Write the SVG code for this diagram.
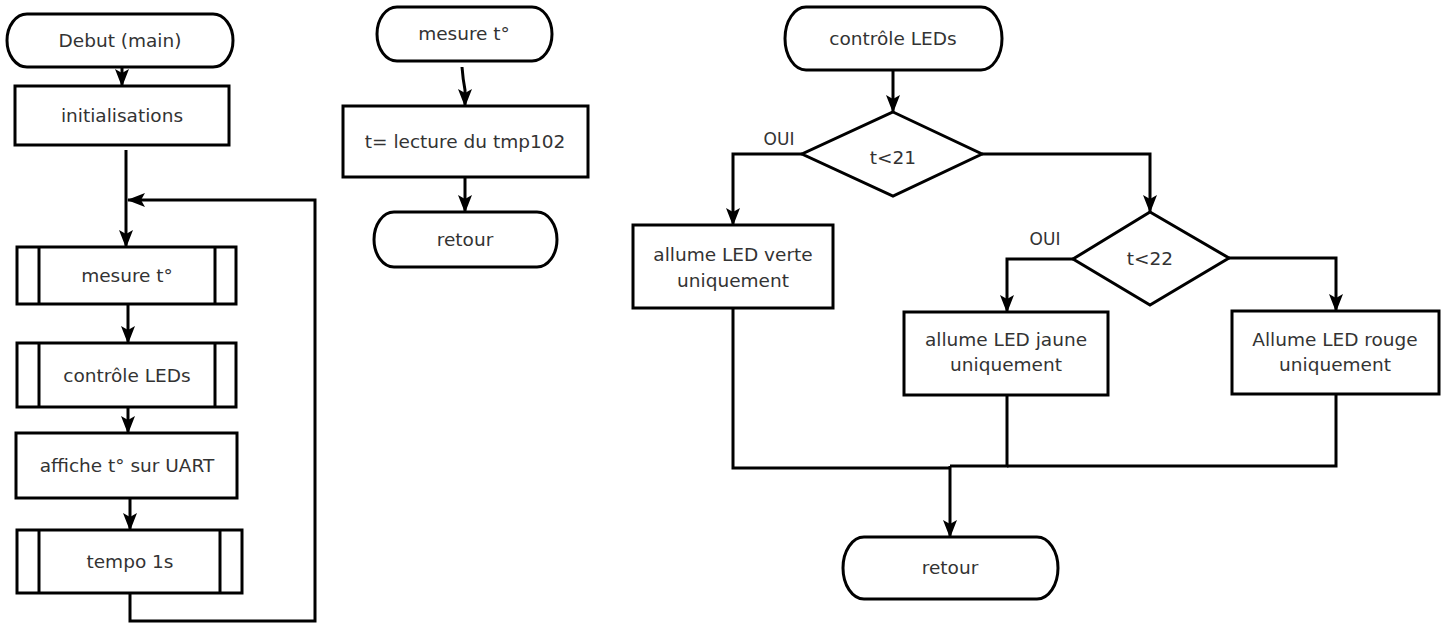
<svg xmlns="http://www.w3.org/2000/svg" width="1449" height="624" viewBox="0 0 1449 624">
<style>
.shape{fill:#fff;stroke:#000;stroke-width:3}
.sub{fill:none;stroke:#000;stroke-width:3}
.conn{fill:none;stroke:#000;stroke-width:3}
.arr{marker-end:url(#ah)}
text{font-family:"DejaVu Sans","Liberation Sans",sans-serif;font-size:18.5px;fill:#333;text-anchor:middle}
.lbl{font-size:17px}
</style>
<defs>
<marker id="ah" viewBox="0 0 18 14" refX="17" refY="7" markerUnits="userSpaceOnUse" markerWidth="18" markerHeight="14" orient="auto">
<path d="M0,0 L18,7 L0,14 L4,7 Z" fill="#000"/>
</marker>
</defs>
<rect width="1449" height="624" fill="#fff"/>

<g id="connectors">
<line class="conn arr" x1="122" y1="67" x2="122" y2="86"/>
<line class="conn arr" x1="126" y1="150" x2="126" y2="247"/>
<polyline class="conn arr" points="130,593 130,621 315,621 315,200 128,200"/>
<line class="conn arr" x1="128" y1="304" x2="128" y2="343"/>
<line class="conn arr" x1="128" y1="407" x2="128" y2="433"/>
<line class="conn arr" x1="130" y1="498" x2="130" y2="530"/>

<path class="conn arr" d="M462,67 Q463,80 465,90 L465,106"/>
<line class="conn arr" x1="465" y1="177" x2="465" y2="212"/>

<line class="conn arr" x1="893" y1="70" x2="893" y2="112"/>
<polyline class="conn arr" points="802,154 733,154 733,225"/>
<polyline class="conn arr" points="982,154 1150,154 1150,212"/>
<polyline class="conn arr" points="1073,259 1007,259 1007,312"/>
<polyline class="conn arr" points="1229,258 1336,258 1336,311"/>
<polyline class="conn" points="733,308 733,468 950,468"/>
<polyline class="conn" points="1007,395 1007,466 950,466"/>
<polyline class="conn" points="1336,394 1336,466 1007,466"/>
<line class="conn arr" x1="950" y1="466" x2="950" y2="537"/>
</g>

<g id="debut">
<path class="shape" d="M27,14 H213 A20,26.5 0 0 1 213,67 H27 A20,26.5 0 0 1 27,14 Z"/>
<text x="120" y="47">Debut (main)</text>
</g>
<g id="init">
<rect class="shape" x="15" y="86" width="214" height="59"/>
<text x="122" y="122">initialisations</text>
</g>
<g id="mesure-call">
<rect class="shape" x="17" y="247" width="219" height="57"/>
<line class="sub" x1="39" y1="247" x2="39" y2="304"/>
<line class="sub" x1="215" y1="247" x2="215" y2="304"/>
<text x="127" y="282">mesure t°</text>
</g>
<g id="controle-call">
<rect class="shape" x="17" y="343" width="219" height="64"/>
<line class="sub" x1="39" y1="343" x2="39" y2="407"/>
<line class="sub" x1="215" y1="343" x2="215" y2="407"/>
<text x="127" y="382">contrôle LEDs</text>
</g>
<g id="affiche">
<rect class="shape" x="16" y="433" width="221" height="65"/>
<text x="127" y="472">affiche t° sur UART</text>
</g>
<g id="tempo">
<rect class="shape" x="17" y="530" width="225" height="63"/>
<line class="sub" x1="39" y1="530" x2="39" y2="593"/>
<line class="sub" x1="220" y1="530" x2="220" y2="593"/>
<text x="130" y="568">tempo 1s</text>
</g>

<g id="mesure-start">
<path class="shape" d="M397,7 H532 A20,27 0 0 1 532,61 H397 A20,27 0 0 1 397,7 Z"/>
<text x="464" y="40">mesure t°</text>
</g>
<g id="lecture">
<rect class="shape" x="343" y="106" width="245" height="71"/>
<text x="465" y="148">t= lecture du tmp102</text>
</g>
<g id="retour1">
<path class="shape" d="M394,212 H537 A20,27.5 0 0 1 537,267 H394 A20,27.5 0 0 1 394,212 Z"/>
<text x="465" y="246">retour</text>
</g>

<g id="controle-start">
<path class="shape" d="M806,7 H981 A21,31.5 0 0 1 981,70 H806 A21,31.5 0 0 1 806,7 Z"/>
<text x="893" y="45">contrôle LEDs</text>
</g>
<g id="test21">
<polygon class="shape" points="893,112 982,154 893,196 802,154"/>
<text x="893" y="164">t&lt;21</text>
<text class="lbl" x="779" y="145">OUI</text>
</g>
<g id="verte">
<rect class="shape" x="633" y="225" width="200" height="83"/>
<text x="733" y="261">allume LED verte</text>
<text x="733" y="287">uniquement</text>
</g>
<g id="test22">
<polygon class="shape" points="1150,212 1229,258 1150,305 1073,259"/>
<text x="1150" y="265">t&lt;22</text>
<text class="lbl" x="1045" y="245">OUI</text>
</g>
<g id="jaune">
<rect class="shape" x="904" y="312" width="204" height="83"/>
<text x="1006" y="346">allume LED jaune</text>
<text x="1006" y="371">uniquement</text>
</g>
<g id="rouge">
<rect class="shape" x="1232" y="311" width="207" height="83"/>
<text x="1335" y="346">Allume LED rouge</text>
<text x="1335" y="371">uniquement</text>
</g>
<g id="retour2">
<path class="shape" d="M864,537 H1037 A21,31 0 0 1 1037,599 H864 A21,31 0 0 1 864,537 Z"/>
<text x="950" y="574">retour</text>
</g>
</svg>
